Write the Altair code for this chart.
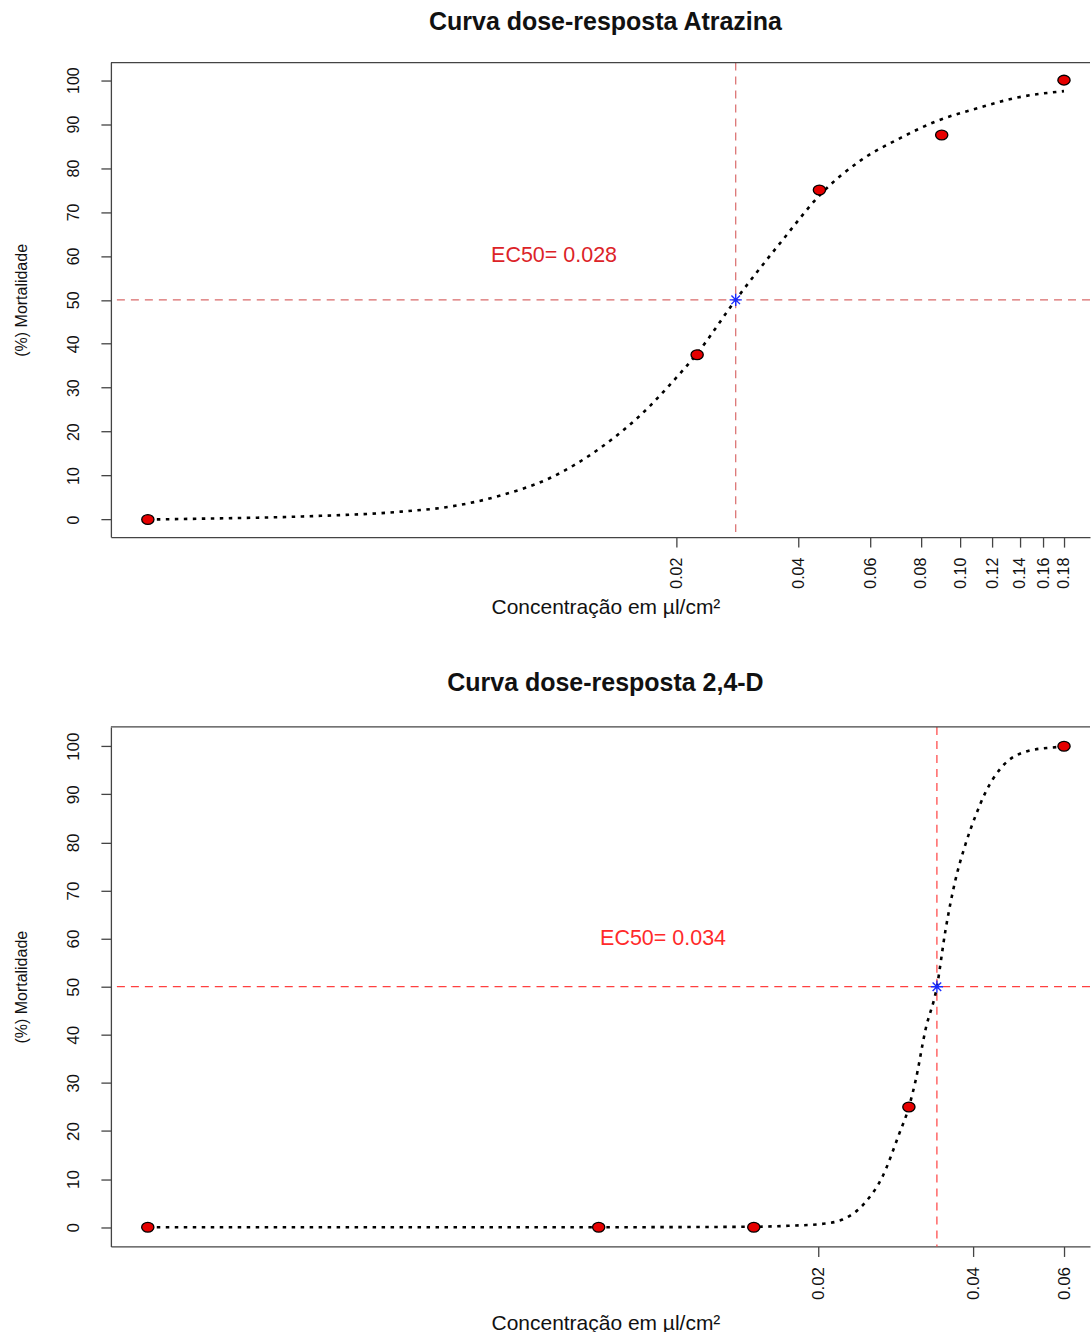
import altair as alt
import pandas as pd

FONT = "Liberation Sans"
X_TITLE = "Concentração em µl/cm²"
Y_TITLE = "(%) Mortalidade"

# --- Atrazina: observed mortality and fitted log-logistic curve ---
atz_dose = [0.001, 0.0225, 0.045, 0.09, 0.18]
atz_mort = [0.0, 37.5, 75.0, 87.5, 100.0]
atz_fit_dose = [0.001, 0.00136, 0.0024, 0.0042, 0.0056, 0.0074, 0.0098, 0.013,
                0.0172, 0.0192, 0.0225, 0.028, 0.0363, 0.0455, 0.057, 0.0715,
                0.0865, 0.112, 0.136, 0.18]
atz_fit_mort = [0.0, 0.2, 0.7, 1.8, 3.0, 5.5, 9.5, 16.3, 25.8, 30.5, 37.8, 50.0,
                63.3, 74.2, 81.8, 86.9, 90.5, 93.8, 95.9, 97.5]
atz_ec50 = 0.028
atz_ticks = [0.02, 0.04, 0.06, 0.08, 0.10, 0.12, 0.14, 0.16, 0.18]
atz_xdomain = [0.000811, 0.2086]

# --- 2,4-D: observed mortality and fitted log-logistic curve ---
d24_dose = [0.001, 0.0075, 0.015, 0.03, 0.06]
d24_mort = [0.0, 0.0, 0.0, 25.0, 100.0]
d24_fit_dose = [0.001, 0.0075, 0.015, 0.0175, 0.0204, 0.0223, 0.0248, 0.0266,
                0.0287, 0.03, 0.0309, 0.0323, 0.034, 0.0353, 0.0369, 0.0386,
                0.0404, 0.0422, 0.0453, 0.0511, 0.0566, 0.06]
d24_fit_mort = [0.0, 0.0, 0.1, 0.3, 0.7, 1.6, 5.4, 10.3, 19.3, 25.0, 30.4, 41.0,
                50.0, 61.5, 72.0, 79.5, 85.5, 90.3, 95.5, 99.0, 99.7, 99.9]
d24_ec50 = 0.034
d24_ticks = [0.02, 0.04, 0.06]
d24_xdomain = [0.000848, 0.06739]

y_ticks = list(range(0, 101, 10))
label_pos = (0.01, 60)

ELLIPSE = "M -1 0 A 1 0.8 0 1 0 1 0 A 1 0.8 0 1 0 -1 0 Z"
ASTERISK = "M -1 0 L 1 0 M 0 -1 L 0 1 M -0.7 -0.7 L 0.7 0.7 M -0.7 0.7 L 0.7 -0.7"


def panel(title, dose, mort, fit_dose, fit_mort, ec50, ticks, xdomain,
          height, tick_fs, dash_color, text_color, x_title_y, title_offset):
    pts = pd.DataFrame({"dose": dose, "mort": mort})
    fit = pd.DataFrame({"dose": fit_dose, "mort": fit_mort})
    ec = pd.DataFrame({"dose": [ec50], "mort": [50.0],
                       "label": [f"EC50= {ec50:.3f}"],
                       "lx": [label_pos[0]], "ly": [label_pos[1]]})

    xs = alt.Scale(type="log", domain=xdomain, nice=False)
    ys = alt.Scale(domain=[-4, 104], nice=False, zero=False)

    x_axis = alt.Axis(values=ticks, format=".2f", labelAngle=270,
                      labelFontSize=tick_fs, labelFont=FONT, labelColor="#111",
                      labelPadding=10, tickSize=10, tickColor="#444",
                      domainColor="#444", domainWidth=1.3, tickWidth=1.3,
                      grid=False, title=X_TITLE, titleFont=FONT,
                      titleFontSize=21, titleFontWeight="normal",
                      titleColor="#111", titleX=495, titleY=x_title_y,
                      titleAlign="center", titleBaseline="middle",
                      labelFlush=False, labelOverlap=False)
    y_axis = alt.Axis(values=y_ticks, format="d", labelAngle=270,
                      labelAlign="center", labelBaseline="alphabetic",
                      labelFontSize=tick_fs, labelFont=FONT, labelColor="#111",
                      labelPadding=22, tickSize=10, tickColor="#444",
                      domainColor="#444", domainWidth=1.3, tickWidth=1.3,
                      grid=False, title=Y_TITLE, titleFont=FONT,
                      titleFontSize=16, titleFontWeight="normal",
                      titleColor="#111", titleX=-89, titleBaseline="middle",
                      labelFlush=False, labelOverlap=False)

    curve = alt.Chart(fit).mark_line(
        color="black", strokeDash=[3.5, 5.5], strokeWidth=2.6,
        interpolate="monotone"
    ).encode(
        x=alt.X("dose:Q", scale=xs, axis=x_axis),
        y=alt.Y("mort:Q", scale=ys, axis=y_axis),
    )
    hline = alt.Chart(ec).mark_rule(
        color=dash_color, strokeDash=[8, 6], strokeWidth=1.2
    ).encode(y=alt.Y("mort:Q", scale=ys))
    vline = alt.Chart(ec).mark_rule(
        color=dash_color, strokeDash=[8, 6], strokeWidth=1.2
    ).encode(x=alt.X("dose:Q", scale=xs))
    top_border = alt.Chart(ec).mark_rule(
        color="#444", strokeWidth=1.3
    ).encode(y=alt.value(0))
    dots = alt.Chart(pts).mark_point(
        shape=ELLIPSE, filled=True, fill="#e60000", stroke="black",
        strokeWidth=1.3, size=150, opacity=1
    ).encode(x=alt.X("dose:Q", scale=xs), y=alt.Y("mort:Q", scale=ys))
    star = alt.Chart(ec).mark_point(
        shape=ASTERISK, filled=False, stroke="#1a2cff", strokeWidth=1.4,
        size=150, opacity=1
    ).encode(x=alt.X("dose:Q", scale=xs), y=alt.Y("mort:Q", scale=ys))
    label = alt.Chart(ec).mark_text(
        font=FONT, fontSize=21.5, color=text_color, align="center",
        baseline="middle"
    ).encode(x=alt.X("lx:Q", scale=xs), y=alt.Y("ly:Q", scale=ys),
             text="label:N")

    return alt.layer(hline, vline, top_border, curve, dots, star, label).properties(
        width=980, height=height,
        title=alt.TitleParams(title, font=FONT, fontSize=25, fontWeight="bold",
                              color="#111", anchor="middle", dx=5,
                              offset=title_offset),
    )


top = panel("Curva dose-resposta Atrazina", atz_dose, atz_mort, atz_fit_dose,
            atz_fit_mort, atz_ec50, atz_ticks, atz_xdomain, 475, 16,
            "#d96a6a", "#dc2328", 70, 27)
bottom = panel("Curva dose-resposta 2,4-D", d24_dose, d24_mort, d24_fit_dose,
               d24_fit_mort, d24_ec50, d24_ticks, d24_xdomain, 520, 17,
               "#ff4040", "#ff2a2a", 77, 30)

chart = alt.vconcat(top, bottom, spacing=54).resolve_scale(
    x="independent", y="independent"
).properties(
    padding={"left": 14, "top": 9, "right": 0, "bottom": 0},
    background="white",
).configure_view(stroke=None)

chart.save("out.html", embed_options={"renderer": "svg", "actions": False})
